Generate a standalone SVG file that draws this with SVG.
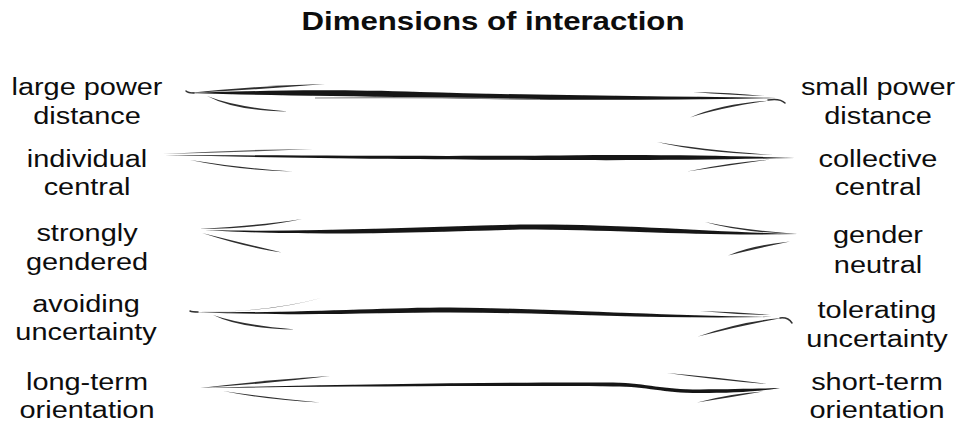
<svg xmlns="http://www.w3.org/2000/svg" width="959" height="425" viewBox="0 0 959 425">
<defs>
<filter id="soft" x="-5%" y="-50%" width="110%" height="200%"><feGaussianBlur stdDeviation="0.5"/></filter>
<style>
text{font-family:"Liberation Sans",Arial,Helvetica,sans-serif;fill:#0d0d0d;text-anchor:middle}
.lbl{font-size:24.5px}
.title{font-size:26px;font-weight:bold}
.shaft{fill:#161616}
.barb{fill:#2e2e2e}
.lite{fill:none;stroke:#888;stroke-width:1.2}
.hook{fill:none;stroke:#333;stroke-width:1.5;stroke-linecap:round}
</style>
</defs>
<rect width="959" height="425" fill="#fff"/>
<g id="title"><text class="title" transform="translate(493 30) scale(1.2 1)">Dimensions of interaction</text></g>

<g id="left-power"><text class="lbl" transform="translate(87 95) scale(1.18 1)">large power</text><text class="lbl" transform="translate(87 124) scale(1.18 1)">distance</text></g>
<g id="right-power"><text class="lbl" transform="translate(878 95) scale(1.18 1)">small power</text><text class="lbl" transform="translate(878 124) scale(1.18 1)">distance</text></g>
<g id="left-individual"><text class="lbl" transform="translate(87 167) scale(1.18 1)">individual</text><text class="lbl" transform="translate(87 195) scale(1.18 1)">central</text></g>
<g id="right-collective"><text class="lbl" transform="translate(878 167) scale(1.18 1)">collective</text><text class="lbl" transform="translate(878 195) scale(1.18 1)">central</text></g>
<g id="left-gendered"><text class="lbl" transform="translate(87 241) scale(1.18 1)">strongly</text><text class="lbl" transform="translate(87 270) scale(1.18 1)">gendered</text></g>
<g id="right-neutral"><text class="lbl" transform="translate(878 243) scale(1.18 1)">gender</text><text class="lbl" transform="translate(878 273) scale(1.18 1)">neutral</text></g>
<g id="left-avoiding"><text class="lbl" transform="translate(86 312) scale(1.18 1)">avoiding</text><text class="lbl" transform="translate(86 340) scale(1.18 1)">uncertainty</text></g>
<g id="right-tolerating"><text class="lbl" transform="translate(877 318) scale(1.18 1)">tolerating</text><text class="lbl" transform="translate(877 347) scale(1.18 1)">uncertainty</text></g>
<g id="left-longterm"><text class="lbl" transform="translate(87 390) scale(1.18 1)">long-term</text><text class="lbl" transform="translate(87 418) scale(1.18 1)">orientation</text></g>
<g id="right-shortterm"><text class="lbl" transform="translate(877 390) scale(1.18 1)">short-term</text><text class="lbl" transform="translate(877 418) scale(1.18 1)">orientation</text></g>

<g id="connectors" filter="url(#soft)">
<g id="arrow-power">
<path class="shaft" d="M188 93 C260 90.5 330 89 420 92 C520 95 650 96 776 98 C650 100.5 520 100.5 420 97.5 C330 95.5 260 95.5 188 93 Z"/>
<path class="lite" d="M315 98 C400 97 480 98 540 99.5"/>
<path class="barb" d="M188 93 Q260 85.5 325 84 Q260 89.5 188 93 Z"/>
<path class="barb" d="M207 96 Q235 111 288 111.5 Q235 107 207 96 Z"/>
<path class="hook" d="M186 91 Q188 93 194 93"/>
<path class="barb" d="M693 92 Q730 92.5 764 96 Q730 95 693 92 Z"/>
<path class="barb" d="M690 117.5 Q720 104 770 100.5 Q722 107.5 690 117.5 Z"/>
<path class="hook" d="M768 100 Q780 98 785 103"/>
</g>
<g id="arrow-individual">
<path class="shaft" d="M165 155 C300 155.5 450 156.5 560 155.5 C650 154.5 720 155.5 795 158 C720 159.5 650 160.5 560 160 C450 159.5 300 158.5 165 155 Z"/>
<path class="barb" d="M163 154 Q240 149.5 313 149 Q240 152.5 163 154 Z" style="fill:#555"/>
<path class="barb" d="M190 160 Q240 170.5 293 171.5 Q240 168 190 160 Z"/>
<path class="barb" d="M657 142 Q700 149.5 773 155 Q700 152.5 657 142 Z"/>
<path class="barb" d="M687 171.5 Q730 162.5 770 159.5 Q730 165.5 687 171.5 Z"/>
</g>
<g id="arrow-gender">
<path class="shaft" d="M205 230 C300 232.5 420 227 520 224.5 C620 223.5 700 231.5 798 234 C700 236.5 620 229.5 520 229.5 C420 232.5 300 236.5 205 230 Z"/>
<path class="barb" d="M199 229 Q260 225.5 302 219 Q260 228.5 199 229 Z"/>
<path class="barb" d="M202 233 Q250 248.5 282 252.5 Q250 245 202 233 Z"/>
<path class="barb" d="M705 222 Q740 229.5 797 234 Q740 232.5 705 222 Z"/>
<path class="barb" d="M728 255.5 Q750 245.5 790 241.5 Q752 249.5 728 255.5 Z"/>
</g>
<g id="arrow-uncertainty">
<path class="shaft" d="M195 312 C300 313.5 380 307.5 450 307.5 C550 308.5 650 315.5 772 317 C650 319.5 550 312.5 450 312.5 C380 312.5 300 316.5 195 312 Z"/>
<path class="barb" d="M200 312 Q270 312.5 321 298 Q272 311.5 200 312 Z"/>
<path class="barb" d="M213 315 Q240 328.5 295 329.5 Q242 325 213 315 Z"/>
<path class="hook" d="M190 311 Q192 312 198 312"/>
<path class="barb" d="M700 311 Q735 311.5 770 315 Q735 314.5 700 311 Z"/>
<path class="barb" d="M698 336.5 Q740 321.5 782 318 Q742 325.5 698 336.5 Z"/>
<path class="hook" d="M780 318 Q788 317 792 323"/>
</g>
<g id="arrow-term">
<path class="shaft" d="M200 388 C350 384 500 382 613 382.5 C650 383.5 660 389.5 700 389.5 C730 389.5 760 388.5 780 388 C760 391.5 730 393 700 393 C660 393 650 386.5 613 386.5 C500 385.5 350 386.5 200 388 Z"/>
<path class="barb" d="M200 388 Q270 379.5 330 376 Q270 383.5 200 388 Z"/>
<path class="barb" d="M223 391 Q270 400.5 320 402.5 Q270 398 223 391 Z"/>
<path class="barb" d="M667 373 Q720 377.5 767 384 Q720 380.5 667 373 Z"/>
<path class="barb" d="M697 402.5 Q730 393.5 763 391.5 Q730 397.5 697 402.5 Z"/>
</g>
</g>
</svg>
